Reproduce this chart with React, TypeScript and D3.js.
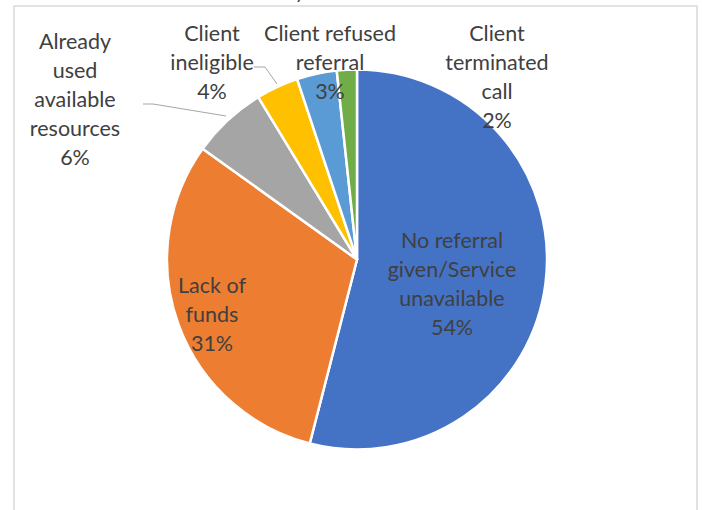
import React from "react";
import * as d3 from "d3";

const categories = [
  "No referral given/Service unavailable",
  "Lack of funds",
  "Already used available resources",
  "Client ineligible",
  "Client refused referral",
  "Client terminated call",
];
const values = [54.0, 30.9, 6.4, 3.6, 3.4, 1.7];
const percentLabels = ["54%", "31%", "6%", "4%", "3%", "2%"];
const labelLines = [
  ["No referral", "given/Service", "unavailable"],
  ["Lack of", "funds"],
  ["Already", "used", "available", "resources"],
  ["Client", "ineligible"],
  ["Client refused", "referral"],
  ["Client", "terminated", "call"],
];
const colors = ["#4472C4", "#ED7D31", "#A5A5A5", "#FFC000", "#5B9BD5", "#70AD47"];
// label anchor (center x, first baseline y)
const labelPos: [number, number][] = [
  [452, 248],
  [212, 293],
  [75, 49],
  [212, 41],
  [330, 41],
  [497, 41],
];
const leaders: [number, number][][] = [
  [],
  [],
  [[143, 104], [153, 104], [226, 116]],
  [[254, 67], [265, 67], [277, 84]],
  [],
  [],
];

export default function App() {
  const W = 702, H = 510;
  const cx = 357, cy = 259.5, r = 190;
  const pie = d3.pie<number>().sort(null).value((d) => d)(values);
  const arc = d3.arc<d3.PieArcDatum<number>>().innerRadius(0).outerRadius(r);
  const lineGen = d3.line();
  const lh = 29;
  const fs = 21.5;
  return (
    <svg width={W} height={H} style={{ position: "absolute", left: 0, top: 0 }}
      fontFamily="Lato, sans-serif">
      <rect x={0} y={0} width={W} height={H} fill="#fff" />
      <text x={300} y={-1} fontSize={20} fill="#404040" textAnchor="middle">y</text>
      <rect x={14} y={6} width={683} height={H + 20} fill="#fff" stroke="#d9d9d9" strokeWidth={1.5} />
      <g transform={`translate(${cx},${cy})`}>
        {pie.map((p, i) => (
          <path key={categories[i]} d={arc(p) || ""} fill={colors[i]} stroke="#fff" strokeWidth={2.5} strokeLinejoin="round" />
        ))}
      </g>
      {leaders.map((pts, i) =>
        pts.length ? (
          <path key={"l" + i} d={lineGen(pts) || ""} fill="none" stroke="#a6a6a6" strokeWidth={1} />
        ) : null
      )}
      {labelLines.map((lines, i) => {
        const [x, y] = labelPos[i];
        const all = [...lines, percentLabels[i]];
        return (
          <text key={"t" + i} x={x} y={y} fontSize={fs} fill="#404040" textAnchor="middle">
            {all.map((ln, j) => (
              <tspan key={j} x={x} y={y + j * lh}>{ln}</tspan>
            ))}
          </text>
        );
      })}
    </svg>
  );
}
